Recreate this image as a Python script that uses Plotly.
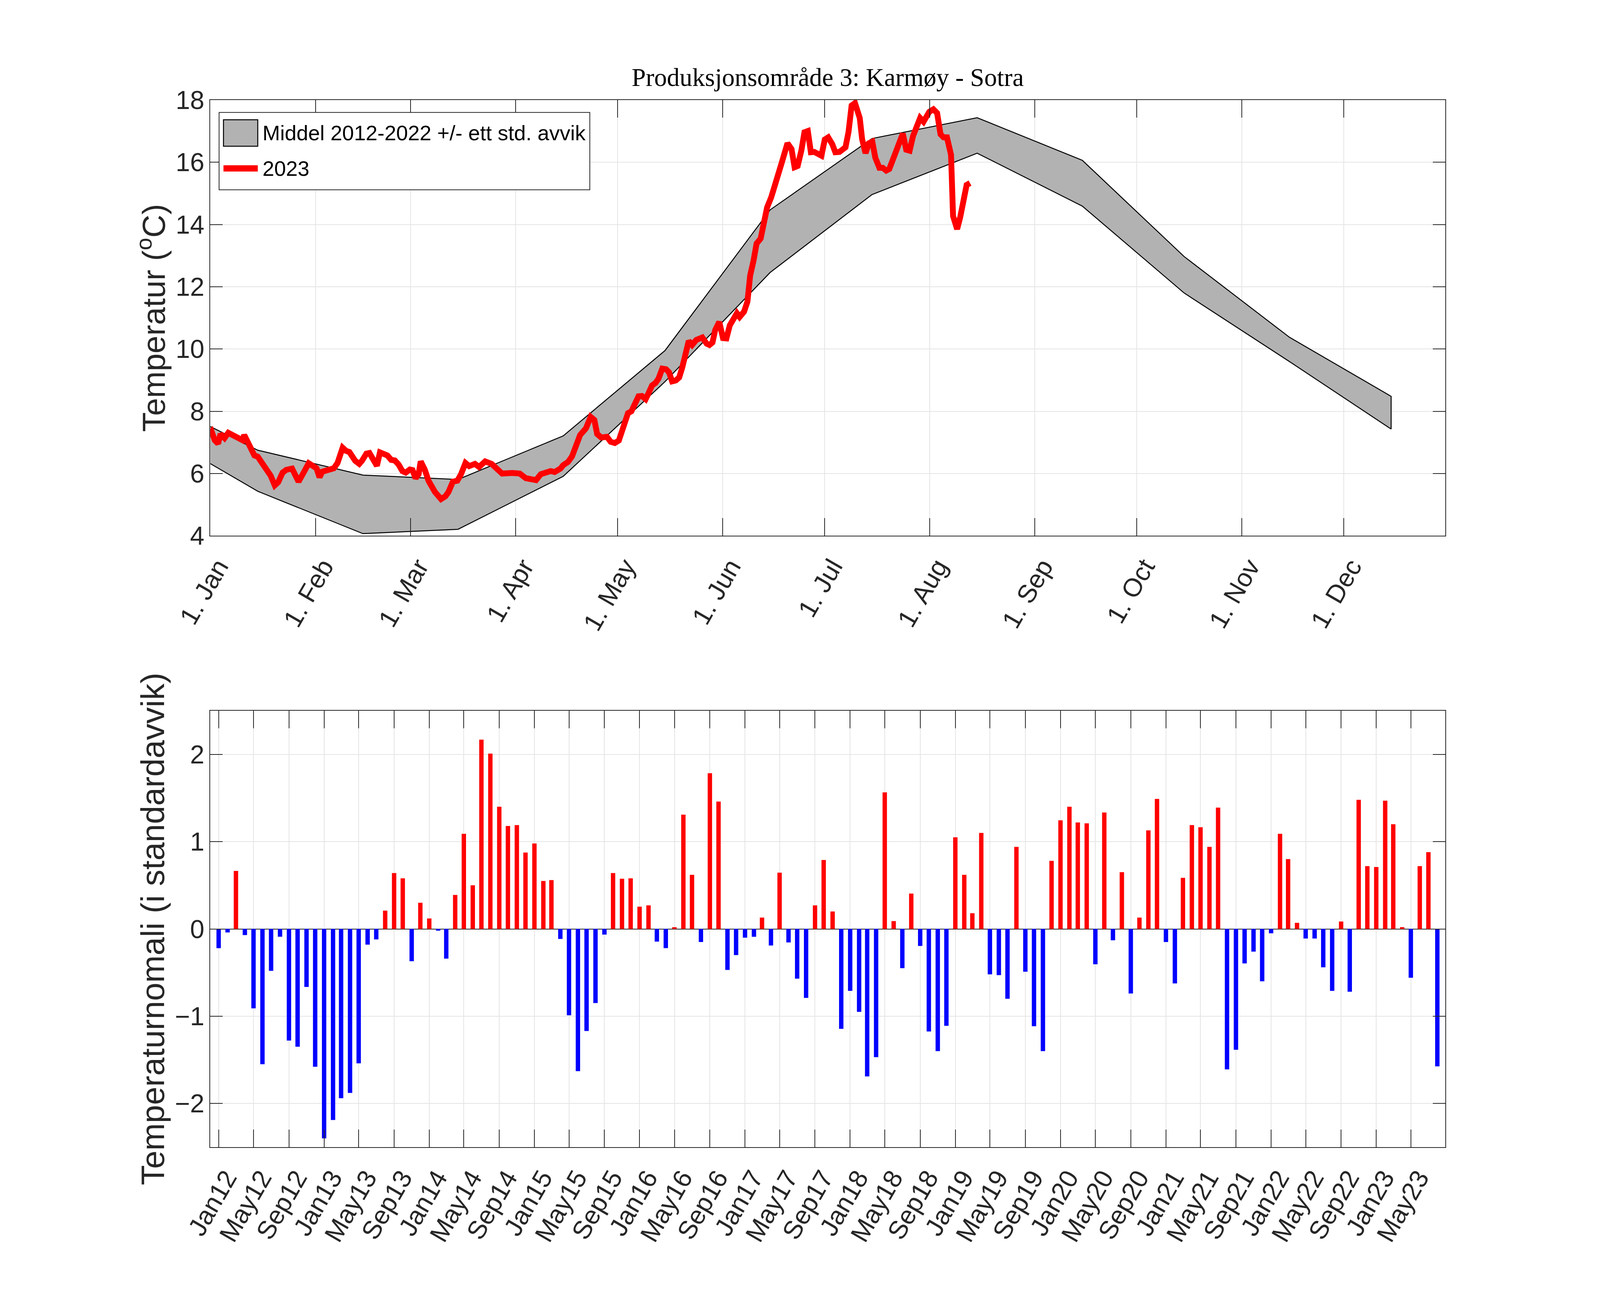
import pandas as pd
import plotly.graph_objs as go

# Mean 2012-2022 +/- one standard deviation, day of year
band_days = [1, 15, 46, 74, 105, 135, 166, 196, 227, 258, 288, 319, 349]
band_upper = [7.51, 6.75, 5.95, 5.81, 7.21, 9.95, 14.47, 16.76, 17.43, 16.06, 12.97, 10.38, 8.48]
band_lower = [6.32, 5.43, 4.07, 4.21, 5.91, 8.95, 12.46, 14.96, 16.29, 14.59, 11.80, 9.60, 7.43]

# Temperature 2023
days_2023 = [1, 1.4, 2.3, 3.3, 4, 5.2, 6.3, 8, 9.3, 10.5, 11, 12, 14, 15, 17.2, 18.8, 20, 21, 22.3, 23.4,
             25.1, 27, 28.5, 30, 32.3, 33.2, 34, 35.2, 36.3, 37.4, 38.5, 40, 41, 42, 43.7, 44.9, 45.7, 47, 47.9, 50.1,
             51, 53.2, 54.3, 55.4, 56.5, 57.6, 58.6, 59.8, 60.6, 61.5, 62.4, 63, 64.2, 65.3, 67.2, 69, 70.3, 71.2, 72.5, 73.8,
             74.9, 76.2, 77.3, 79, 80.2, 82, 83.9, 87, 90, 92.2, 94, 97, 98.4, 99.7, 101.3, 102.5, 104.2, 105, 106.4, 107.6,
             109.3, 110, 111.7, 113.1, 114.2, 115, 116.2, 117.9, 119, 120.2, 121.4, 122.5, 124.1, 125.1, 127.2, 128.2, 129.3, 130.1, 131.2, 132.2,
             133.1, 134.2, 135.3, 136.2, 137.1, 138.2, 139.2, 140.1, 141.1, 142, 143, 144.2, 146, 147.3, 148.1, 149, 149.8, 151, 152.1, 153.1,
             154.1, 155, 156.2, 157, 158.3, 159.3, 160.1, 161.1, 162, 163.2, 164.2, 165.1, 166.3, 168.2, 169.4, 171.1, 172.3, 173.2, 174.1, 175.2,
             176.1, 177.1, 178, 179, 180.2, 181.1, 182.1, 183.1, 184.3, 185.2, 186.4, 188.2, 189.1, 190, 191, 192.4, 193.1, 194.1, 195.1, 196.1,
             197, 198.2, 199.2, 200.2, 201.1, 202.3, 203.4, 205.1, 206.1, 207.1, 208.1, 210.2, 211.2, 212.9, 214.1, 215.2, 216.2, 217.1, 218.1, 219.3,
             219.9, 221.1, 222, 223, 223.9, 224.9]
temp_2023 = [7.30, 7.35, 7.07, 6.96, 7.27, 7.14, 7.31, 7.22, 7.10, 7.07, 7.24, 7.02, 6.58, 6.54, 6.19, 5.93, 5.62, 5.72, 6.03, 6.12,
             6.16, 5.74, 6.03, 6.33, 6.17, 5.88, 6.06, 6.09, 6.16, 6.17, 6.34, 6.83, 6.73, 6.69, 6.41, 6.31, 6.41, 6.64, 6.66, 6.25,
             6.68, 6.58, 6.44, 6.42, 6.29, 6.08, 6.03, 6.13, 6.11, 5.85, 5.98, 6.39, 6.13, 5.77, 5.41, 5.18, 5.27, 5.41, 5.74, 5.77,
             5.98, 6.34, 6.24, 6.31, 6.21, 6.39, 6.31, 6.00, 6.02, 6.00, 5.85, 5.79, 5.98, 6.03, 6.08, 6.05, 6.16, 6.27, 6.37, 6.55,
             6.96, 7.24, 7.45, 7.82, 7.72, 7.27, 7.16, 7.18, 7.02, 6.98, 7.06, 7.38, 7.94, 8.00, 8.48, 8.49, 8.39, 8.57, 8.83, 8.91,
             9.05, 9.37, 9.35, 9.25, 8.96, 8.99, 9.09, 9.41, 9.97, 10.26, 10.13, 10.29, 10.37, 10.17, 10.13, 10.21, 10.61, 10.87, 10.35, 10.34,
             10.76, 10.90, 11.15, 11.03, 11.20, 11.52, 12.36, 12.84, 13.39, 13.55, 14.11, 14.55, 14.87, 15.47, 15.98, 16.61, 16.42, 15.84, 15.88, 16.38,
             16.96, 17.00, 16.32, 16.33, 16.24, 16.21, 16.73, 16.80, 16.58, 16.32, 16.33, 16.48, 16.98, 17.82, 17.90, 17.42, 16.74, 16.29, 16.61, 16.66,
             16.14, 15.82, 15.82, 15.73, 15.78, 16.10, 16.36, 16.92, 16.40, 16.37, 16.84, 17.42, 17.30, 17.62, 17.70, 17.58, 16.90, 16.80, 16.80, 16.24,
             14.27, 13.85, 14.23, 14.83, 15.27, 15.33]

month_ticks = [1, 32, 60, 91, 121, 152, 182, 213, 244, 274, 305, 335]
month_labels = ['1. Jan', '1. Feb', '1. Mar', '1. Apr', '1. May', '1. Jun', '1. Jul', '1. Aug', '1. Sep', '1. Oct', '1. Nov', '1. Dec']

# Monthly anomaly Jan 2012 - Aug 2023 (in standard deviations)
anomaly = [-0.22, -0.04, 0.665, -0.07, -0.91, -1.55, -0.48, -0.09, -1.28, -1.35, -0.665, -1.58,
           -2.40, -2.19, -1.94, -1.88, -1.54, -0.18, -0.12, 0.21, 0.64, 0.58, -0.37, 0.30,
           0.12, -0.02, -0.34, 0.39, 1.09, 0.50, 2.17, 2.01, 1.40, 1.18, 1.19, 0.875,
           0.98, 0.55, 0.56, -0.115, -0.99, -1.63, -1.17, -0.85, -0.065, 0.64, 0.575, 0.58,
           0.255, 0.27, -0.145, -0.22, 0.02, 1.31, 0.62, -0.15, 1.785, 1.46, -0.47, -0.30,
           -0.10, -0.09, 0.13, -0.19, 0.645, -0.155, -0.57, -0.79, 0.27, 0.79, 0.20, -1.145,
           -0.71, -0.95, -1.69, -1.47, 1.565, 0.09, -0.45, 0.405, -0.195, -1.175, -1.40, -1.11,
           1.05, 0.62, 0.18, 1.10, -0.52, -0.53, -0.80, 0.94, -0.49, -1.115, -1.40, 0.78,
           1.245, 1.40, 1.22, 1.21, -0.405, 1.335, -0.13, 0.65, -0.74, 0.13, 1.13, 1.49,
           -0.15, -0.625, 0.585, 1.19, 1.165, 0.94, 1.39, -1.61, -1.385, -0.395, -0.26, -0.60,
           -0.05, 1.09, 0.80, 0.07, -0.11, -0.11, -0.44, -0.71, 0.085, -0.72, 1.48, 0.72,
           0.71, 1.47, 1.20, 0.02, -0.56, 0.72, 0.88, -1.575]

months = pd.date_range('2012-01-01', periods=len(anomaly), freq='MS')
df = pd.DataFrame({'month': months, 'anomaly': anomaly})
df_warm = df[df['anomaly'] >= 0]
df_cold = df[df['anomaly'] < 0]
tick_months = pd.date_range('2012-01-01', '2023-05-01', freq='4MS')

dark = '#262626'
grid = '#e5e5e5'
bar_width = 15.2*24*3600*1000  # ms
W = 5808
H = 3317

fig = go.Figure(data=[
    go.Scatter(x=band_days + band_days[::-1], y=band_upper + band_lower[::-1],
               fill='toself', fillcolor='#b2b2b2', mode='lines', line=dict(color='black', width=2.5)),
    go.Scatter(x=days_2023, y=temp_2023, mode='lines', line=dict(color='red', width=15)),
    go.Bar(x=df_warm['month'], y=df_warm['anomaly'], width=bar_width, marker_color='red', marker_line_width=0,
           xaxis='x2', yaxis='y2'),
    go.Bar(x=df_cold['month'], y=df_cold['anomaly'], width=bar_width, marker_color='blue', marker_line_width=0,
           xaxis='x2', yaxis='y2'),
])
fig.update_layout(autosize=True, margin=dict(l=0, r=0, t=0, b=0), barmode='overlay', showlegend=False,
                  paper_bgcolor='white', plot_bgcolor='white',
                  font=dict(family='Liberation Sans', size=66, color=dark))
fig.update_layout(title=dict(text='Produksjonsområde 3: Karmøy - Sotra', x=3005/W, y=1-190/H,
                             xanchor='center', yanchor='middle',
                             font=dict(family='Liberation Serif', size=65, color='black')))

# Legend box, drawn by hand for the big grey patch
fig.update_layout(shapes=[
    dict(type='rect', xref='paper', yref='paper', x0=787/W, x1=2138/W, y0=1-480/H, y1=1-281/H,
         fillcolor='white', line=dict(color=dark, width=2)),
    dict(type='rect', xref='paper', yref='paper', x0=803/W, x1=928/W, y0=1-368/H, y1=1-300/H,
         fillcolor='#b2b2b2', line=dict(color='black', width=2.5)),
    dict(type='line', xref='paper', yref='paper', x0=803/W, x1=928/W, y0=1-425/H, y1=1-425/H,
         line=dict(color='red', width=16)),
])
fig.update_layout(annotations=[
    dict(text='Middel 2012-2022 +/- ett std. avvik', xref='paper', yref='paper', x=942/W, y=1-334/H,
         xanchor='left', yanchor='middle', showarrow=False, font=dict(size=54, color='black')),
    dict(text='2023', xref='paper', yref='paper', x=942/W, y=1-425/H,
         xanchor='left', yanchor='middle', showarrow=False, font=dict(size=54, color='black')),
])

# Upper panel
fig.update_layout(xaxis=dict(domain=[755/W, 5256/W], range=[1, 365], tickvals=month_ticks, ticktext=month_labels,
                             tickangle=-60, ticks='inside', ticklen=45, tickwidth=2, tickcolor=dark,
                             ticklabelshift=20, ticklabelstandoff=12,
                             showline=True, linecolor=dark, linewidth=2, mirror='ticks', automargin=False,
                             showgrid=True, gridcolor=grid, gridwidth=2, zeroline=False),
                  yaxis=dict(domain=[1-1370/H, 1-249/H], range=[4, 18], tickvals=[4, 6, 8, 10, 12, 14, 16, 18],
                             ticks='inside', ticklen=32, tickwidth=2, tickcolor=dark,
                             showline=True, linecolor=dark, linewidth=2, mirror='ticks', automargin=False,
                             showgrid=True, gridcolor=grid, gridwidth=2, zeroline=False,
                             title=dict(text='Temperatur (<sup>o</sup>C)', standoff=0, font=dict(size=82))))

# Lower panel
fig.update_layout(xaxis2=dict(anchor='y2', domain=[755/W, 5256/W], range=['2011-12-03', '2023-08-29'],
                              tickvals=tick_months, ticktext=tick_months.strftime('%b%y').tolist(),
                              tickangle=-60, ticks='inside', ticklen=45, tickwidth=2, tickcolor=dark,
                              ticklabelshift=20, ticklabelstandoff=12,
                              showline=True, linecolor=dark, linewidth=2, mirror='ticks', automargin=False,
                              showgrid=True, gridcolor=grid, gridwidth=2, zeroline=False),
                  yaxis2=dict(anchor='x2', domain=[1-2942/H, 1-1820/H], range=[-2.5, 2.5], tickvals=[-2, -1, 0, 1, 2],
                              tickformat='d', ticks='inside', ticklen=32, tickwidth=2, tickcolor=dark,
                              showline=True, linecolor=dark, linewidth=2, mirror='ticks', automargin=False,
                              showgrid=True, gridcolor=grid, gridwidth=2,
                              zeroline=True, zerolinecolor=dark, zerolinewidth=2,
                              title=dict(text='Temperaturnomali (i standardavvik)', standoff=0, font=dict(size=84))))

fig.write_html("out.html")
